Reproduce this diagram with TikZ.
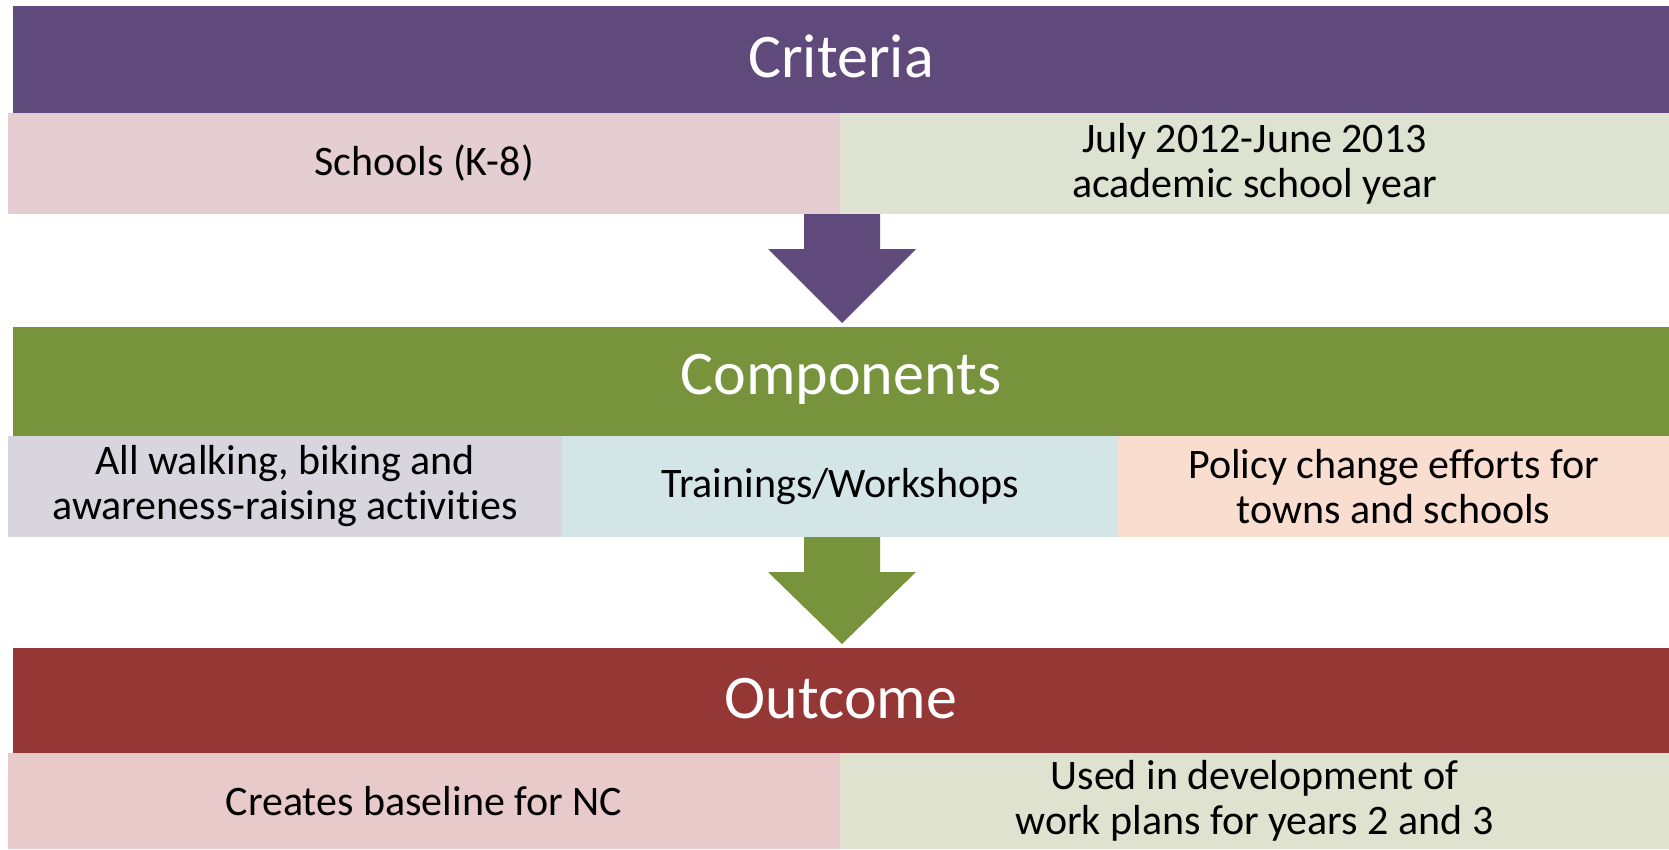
\documentclass[tikz,border=0pt]{standalone}
\usepackage{fontspec}
\setmainfont[Ligatures=NoCommon,RawFeature={-liga;-clig;-dlig}]{Carlito}
\definecolor{purp}{HTML}{604A7B}
\definecolor{grn}{HTML}{77933C}
\definecolor{redd}{HTML}{953735}
\definecolor{critL}{HTML}{E5CED2}
\definecolor{critR}{HTML}{DDE3D0}
\definecolor{compL}{HTML}{D8D5DE}
\definecolor{compM}{HTML}{D4E5E8}
\definecolor{compR}{HTML}{F9DDCF}
\definecolor{outL}{HTML}{E9CACB}
\definecolor{outR}{HTML}{DFE2CE}
\begin{document}
\begin{tikzpicture}[x=1pt,y=-1pt,
  hdr/.style={rectangle, inner sep=0pt, outer sep=0pt, anchor=north west,
    minimum width=1656pt, minimum height=107pt, text=white,
    font=\fontsize{62}{70}\selectfont},
  hdrtext/.style={text=white, inner sep=0pt, font=\fontsize{62}{70}\selectfont},
  sub/.style={rectangle, inner sep=0pt, outer sep=0pt, anchor=north west,
    minimum height=101pt, text=black, align=center,
    font=\fontsize{42}{45}\selectfont}]
\useasboundingbox (0,0) rectangle (1669,849);
\fill[white] (0,0) rectangle (1669,849);
% Criteria
\node[hdr, fill=purp] (crit) at (13,6) {};
\node[hdrtext] (critT) at ([yshift=3pt]crit.center) {Criteria};
\node[sub, fill=critL, minimum width=832pt] (critA) at (8,113) {Schools (K-8)};
\node[sub, fill=critR, minimum width=829pt] (critB) at (840,113) {July 2012-June 2013\\academic school year};
% arrow 1
\fill[purp] (804,214) -- (880,214) -- (880,249) -- (916,249) -- (842,323) -- (768,249) -- (804,249) -- cycle;
% Components
\node[hdr, fill=grn, minimum height=109pt] (comp) at (13,327) {};
\node[hdrtext] (compT) at ([yshift=2pt]comp.center) {Components};
\node[sub, fill=compL, minimum width=554pt] (compA) at (8,436) {All walking, biking and\\awareness-raising act\kern0pt{}ivit\kern0pt{}ies};
\node[sub, fill=compM, minimum width=556pt] (compB) at (562,436) {Trainings/Workshops};
\node[sub, fill=compR, minimum width=551pt] (compC) at (1118,436) {Policy change efforts for\\towns and schools};
% arrow 2
\fill[grn] (804,537) -- (880,537) -- (880,572) -- (916,572) -- (842,644) -- (768,572) -- (804,572) -- cycle;
% Outcome
\node[hdr, fill=redd, minimum height=105pt] (out) at (13,648) {};
\node[hdrtext] (outT) at ([yshift=2pt]out.center) {Outcome};
\node[sub, fill=outL, minimum width=832pt, minimum height=96pt] (outA) at (8,753) {Creates baseline for NC};
\node[sub, fill=outR, minimum width=829pt, minimum height=96pt] (outB) at (840,753) {Used in development of\\work plans for years 2 and 3};
\end{tikzpicture}
\end{document}
